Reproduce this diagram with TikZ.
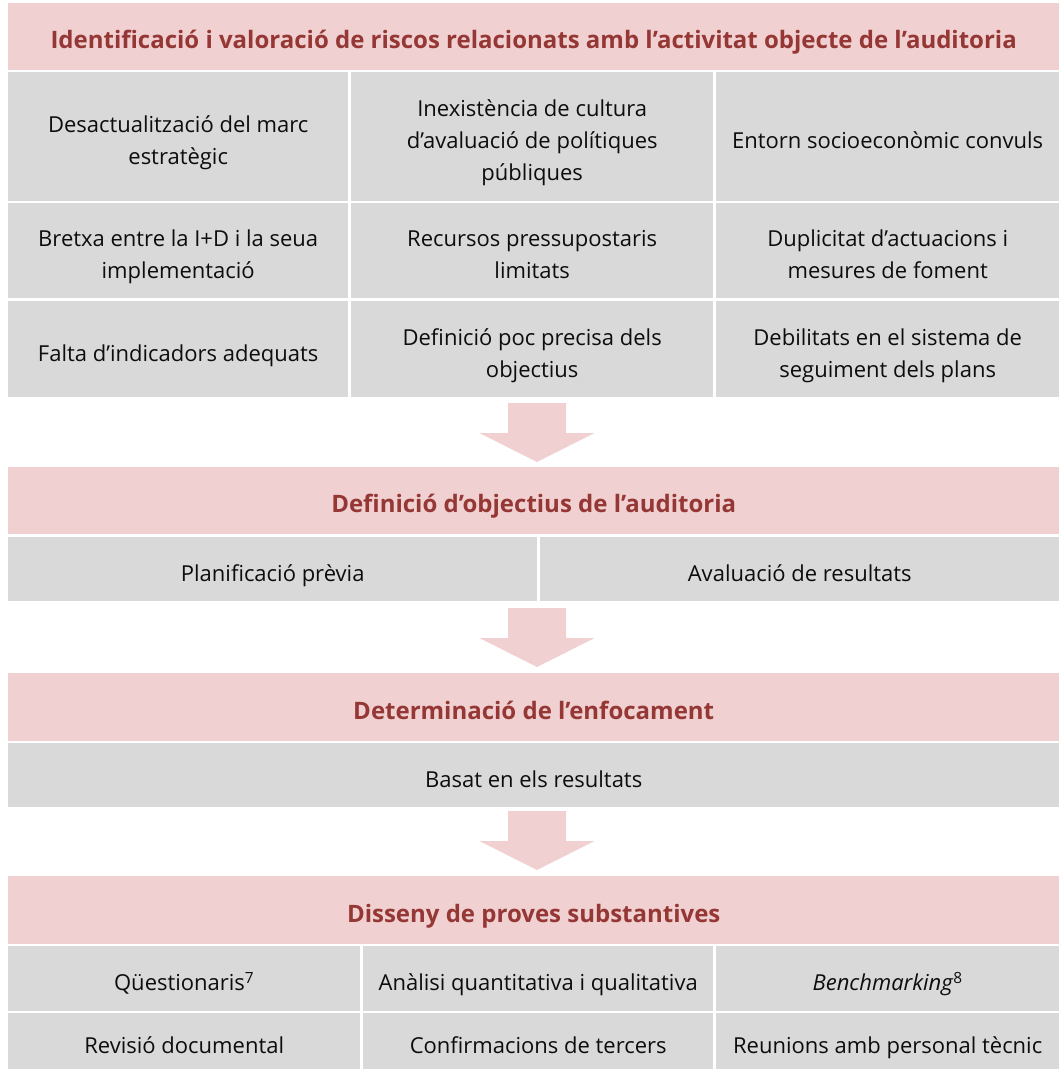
\documentclass[tikz,border=0pt]{standalone}
\usepackage{fontspec}
\setmainfont{Open Sans}
\definecolor{headpink}{HTML}{F0D0D1}
\definecolor{cellgray}{HTML}{D9D9D9}
\definecolor{headred}{HTML}{953735}
\definecolor{celltext}{HTML}{0D0D0D}

\begin{document}
\begin{tikzpicture}[
    x=1pt, y=-1pt,
    head/.style={rectangle, fill=headpink, text=headred, font=\fontsize{24}{32}\selectfont\bfseries, inner sep=0pt, anchor=north west, minimum width=1051pt, minimum height=67pt, text height=28pt, text depth=4pt},
    cell/.style={rectangle, fill=cellgray, text=celltext, font=\fontsize{22}{32}\selectfont, align=center, inner sep=0pt, anchor=north west, text height=28pt, text depth=4pt},
    twoline/.style={text height=60pt},
    threeline/.style={text height=92pt},
    downarrow/.pic={\fill[headpink] (-29,0) -- (29,0) -- (29,30) -- (57.5,30) -- (0,59) -- (-57.5,30) -- (-29,30) -- cycle;}
]
\useasboundingbox (0,0) rectangle (1059,1069);

\node[head] (risks) at (8,3) {Identificació i valoració de riscos relacionats amb l’activitat objecte de l’auditoria};

\node[cell, twoline, minimum width=340pt, minimum height=129pt] (marc) at (8,72) {Desactualització del marc\\estratègic};
\node[cell, threeline, minimum width=362pt, minimum height=129pt] (cultura) at (351,72) {Inexistència de cultura\\d’avaluació de polítiques\\públiques};
\node[cell, minimum width=343pt, minimum height=129pt] (entorn) at (716,72) {Entorn socioeconòmic convuls};

\node[cell, twoline, minimum width=340pt, minimum height=95pt] (bretxa) at (8,203) {Bretxa entre la I+D i la seua\\implementació};
\node[cell, twoline, minimum width=362pt, minimum height=95pt] (recursos) at (351,203) {Recursos pressupostaris\\limitats};
\node[cell, twoline, minimum width=343pt, minimum height=95pt] (duplicitat) at (716,203) {Duplicitat d’actuacions i\\mesures de foment};

\node[cell, minimum width=340pt, minimum height=96pt] (indicadors) at (8,301) {Falta d’indicadors adequats};
\node[cell, twoline, minimum width=362pt, minimum height=96pt] (objectius) at (351,301) {Definició poc precisa dels\\objectius};
\node[cell, twoline, minimum width=343pt, minimum height=96pt] (seguiment) at (716,301) {Debilitats en el sistema de\\seguiment dels plans};

\pic at (537,403) {downarrow};

\node[head] (objdef) at (8,467) {Definició d’objectius de l’auditoria};
\node[cell, minimum width=529pt, minimum height=64pt] (planif) at (8,537) {Planificació prèvia};
\node[cell, minimum width=519pt, minimum height=64pt] (avaluacio) at (540,537) {Avaluació de resultats};

\pic at (537,608) {downarrow};

\node[head, minimum height=68pt] (enfoc) at (8,673) {Determinació de l’enfocament};
\node[cell, minimum width=1051pt, minimum height=64pt] (basat) at (8,743) {Basat en els resultats};

\pic at (537,811) {downarrow};

\node[head, minimum height=68pt] (proves) at (8,876) {Disseny de proves substantives};

\node[cell, minimum width=352pt, minimum height=65pt] (questionaris) at (8,946) {Qüestionaris\textsuperscript{7}};
\node[cell, minimum width=350pt, minimum height=65pt] (analisi) at (363,946) {Anàlisi quantitativa i qualitativa};
\node[cell, minimum width=343pt, minimum height=65pt] (bench) at (716,946) {\textit{Benchmarking}\textsuperscript{8}};

\node[cell, minimum width=352pt, minimum height=56pt] (revisio) at (8,1013) {Revisió documental};
\node[cell, minimum width=350pt, minimum height=56pt] (confirm) at (363,1013) {Confirmacions de tercers};
\node[cell, minimum width=343pt, minimum height=56pt] (reunions) at (716,1013) {Reunions amb personal tècnic};

\end{tikzpicture}
\end{document}
